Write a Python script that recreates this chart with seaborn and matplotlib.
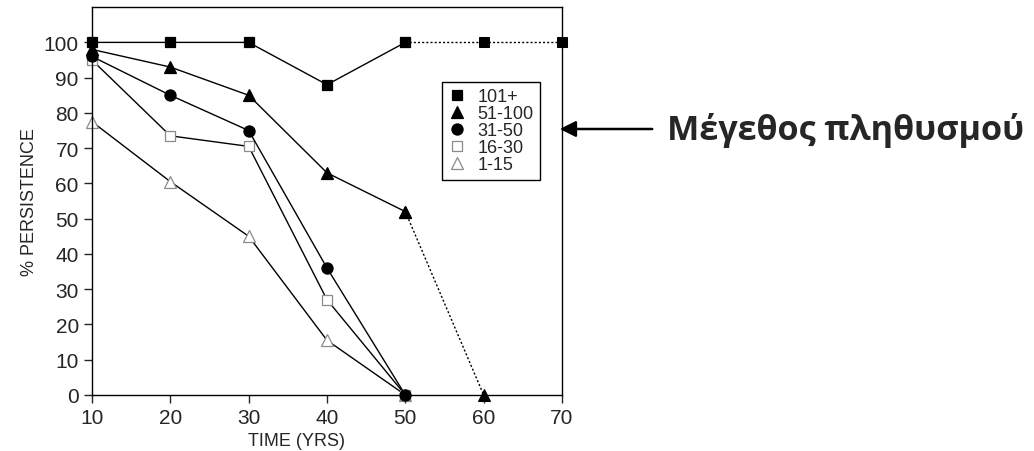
import matplotlib
matplotlib.use("Agg")
import matplotlib.pyplot as plt
from matplotlib.lines import Line2D
from matplotlib.patches import FancyArrowPatch
import seaborn as sns

# Survey years and % persistence for each population-size class
years = [10, 20, 30, 40, 50]
size_classes = ["101+", "51-100", "31-50", "16-30", "1-15"]
p_101 = [100, 100, 100, 88, 100]
p_51_100 = [98, 93, 85, 63, 52]
p_31_50 = [96, 85, 75, 36, 0]
p_16_30 = [95, 73.5, 70.5, 27, 0]
p_1_15 = [77.5, 60.5, 45, 15.5, 0]

# Extrapolated continuation (dotted)
ext_years_101 = [50, 60, 70]
ext_101 = [100, 100, 100]
ext_years_51 = [50, 60]
ext_51 = [52, 0]

x_ticks = [10, 20, 30, 40, 50, 60, 70]
y_ticks = list(range(0, 101, 10))

sns.set_style("ticks")
plt.rcParams["font.family"] = ["Liberation Sans", "DejaVu Sans"]

fig = plt.figure(figsize=(10.34, 4.52), dpi=100)
ax = fig.add_axes([0.089, 0.124, 0.4545, 0.858])

gray = "#8a8a8a"
styles = [
    (p_101, "s", "black", "black", 7),
    (p_51_100, "^", "black", "black", 8),
    (p_31_50, "o", "black", "black", 8),
    (p_16_30, "s", "white", gray, 7),
    (p_1_15, "^", "white", gray, 9),
]

dotted = (0, (1.5, 1.5))
sns.lineplot(x=ext_years_101, y=ext_101, ax=ax, color="black", lw=1.0,
             linestyle=dotted, marker="s", markersize=7,
             markerfacecolor="black", markeredgecolor="black", clip_on=False)
sns.lineplot(x=ext_years_51, y=ext_51, ax=ax, color="black", lw=1.0,
             linestyle=dotted, marker="^", markersize=8,
             markerfacecolor="black", markeredgecolor="black", clip_on=False)

# Open-marker classes first so the filled markers stay on top
for vals, mk, fc, ec, ms in reversed(styles):
    sns.lineplot(x=years, y=vals, ax=ax, color="black", lw=1.0,
                 marker=mk, markersize=ms, markerfacecolor=fc,
                 markeredgecolor=ec, markeredgewidth=0.9, clip_on=False)

ax.set_xlim(10, 70)
ax.set_ylim(0, 110)
ax.set_xticks(x_ticks)
ax.set_yticks(y_ticks)
ax.tick_params(axis="both", labelsize=15, length=6, width=1, direction="out")
ax.set_xlabel("TIME (YRS)", fontsize=13)
ax.xaxis.set_label_coords(0.436, -0.095)
ax.set_ylabel("% PERSISTENCE", fontsize=13, labelpad=4)
for s in ax.spines.values():
    s.set_visible(True)
    s.set_linewidth(1.0)
    s.set_color("black")

handles = [
    Line2D([], [], linestyle="none", marker=mk, markersize=ms,
           markerfacecolor=fc, markeredgecolor=ec, markeredgewidth=0.9)
    for _, mk, fc, ec, ms in styles
]
leg = ax.legend(handles, size_classes, loc="upper left",
                bbox_to_anchor=(0.745, 0.807), fontsize=13, frameon=True,
                fancybox=False, edgecolor="black", framealpha=1,
                handlelength=1.0, handletextpad=0.6, labelspacing=0.0,
                borderpad=0.35, borderaxespad=0)
leg.get_frame().set_linewidth(1.0)

# Side annotation pointing at the legend
fig.patches.append(FancyArrowPatch(
    (655 / 1034, 1 - 130 / 452), (557 / 1034, 1 - 130 / 452),
    transform=fig.transFigure, arrowstyle="-|>", mutation_scale=24,
    color="black", lw=1.8))
fig.text(667 / 1034, 1 - 131 / 452, "Μέγεθος πληθυσμού", fontsize=24.6,
         fontweight="bold", family=["Open Sans", "DejaVu Sans"],
         ha="left", va="center")

fig.savefig("out.png", dpi=100)
